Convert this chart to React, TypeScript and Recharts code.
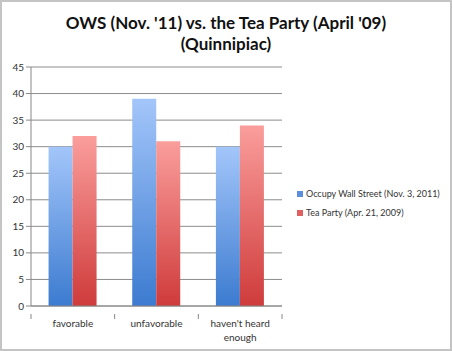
import React from 'react';
import { BarChart, Bar, XAxis, YAxis, CartesianGrid, Text } from 'recharts';

const categories = ['favorable', 'unfavorable', "haven't heard enough"];
const owsValues = [30, 39, 30];
const teaPartyValues = [32, 31, 34];
const yTicks = [0, 5, 10, 15, 20, 25, 30, 35, 40, 45];

const OWS_NAME = 'Occupy Wall Street (Nov. 3, 2011)';
const TEA_NAME = 'Tea Party (Apr. 21, 2009)';

const data = categories.map((name, i) => ({
  name,
  ows: owsValues[i],
  tea: teaPartyValues[i],
}));

const FONT = 'Lato, "Open Sans", sans-serif';
const BAND = (282 - 31) / 3;

const CategoryTick = (props: any) => {
  const { x, y, payload, index } = props;
  const left = x - BAND / 2;
  return (
    <g>
      <line x1={left} y1={y} x2={left} y2={y + 5} stroke="#888" />
      {index === categories.length - 1 && (
        <line x1={left + BAND} y1={y} x2={left + BAND} y2={y + 5} stroke="#888" />
      )}
      <Text x={x} y={y + 6} width={95} textAnchor="middle" verticalAnchor="start" fontSize={10} fill="#333" fontFamily={FONT} lineHeight={14}>
        {payload.value}
      </Text>
    </g>
  );
};

const LegendBox = () => (
  <div style={{ position: 'absolute', left: 297, top: 184, fontFamily: FONT, fontSize: 9, color: '#333', lineHeight: '19px', whiteSpace: 'nowrap' }}>
    <div style={{ display: 'flex', alignItems: 'center' }}>
      <span style={{ width: 6, height: 6, background: '#5b8fdc', marginRight: 3 }} />
      {OWS_NAME}
    </div>
    <div style={{ display: 'flex', alignItems: 'center' }}>
      <span style={{ width: 6, height: 6, background: '#e06060', marginRight: 3 }} />
      {TEA_NAME}
    </div>
  </div>
);

export default function App() {
  return (
    <div style={{ position: 'absolute', left: 0, top: 0, width: 452, height: 351, background: '#fff' }}>
      <div style={{ position: 'absolute', inset: 0, border: '2px solid #c4c4c4', boxSizing: 'border-box', pointerEvents: 'none', zIndex: 2 }} />
      <div style={{ position: 'absolute', top: 12, left: 0, width: 452, textAlign: 'center', fontFamily: FONT, fontWeight: 700, fontSize: 17, lineHeight: '21px', color: '#111' }}>
        OWS (Nov. '11) vs. the Tea Party (April '09)
        <br />
        (Quinnipiac)
      </div>
      <BarChart width={452} height={351} data={data} margin={{ top: 67, right: 170, bottom: 0, left: 0 }} barCategoryGap="21%" barGap={0}>
        <defs>
          <linearGradient id="gBlue" x1="0" y1="0" x2="0" y2="1">
            <stop offset="0%" stopColor="#a3c6fa" />
            <stop offset="100%" stopColor="#3c7bd0" />
          </linearGradient>
          <linearGradient id="gRed" x1="0" y1="0" x2="0" y2="1">
            <stop offset="0%" stopColor="#fa9e9c" />
            <stop offset="100%" stopColor="#cf3b3b" />
          </linearGradient>
        </defs>
        <CartesianGrid vertical={false} stroke="#8c8c8c" />
        <XAxis dataKey="name" axisLine={{ stroke: '#888' }} tickLine={false} tick={<CategoryTick />} interval={0} height={45} />
        <YAxis
          domain={[0, 45]}
          ticks={yTicks}
          width={31}
          axisLine={{ stroke: '#888' }}
          tickLine={{ stroke: '#888' }}
          tickSize={5}
          tick={{ fontSize: 10, fill: '#333', fontFamily: FONT }}
          interval={0}
        />
        <Bar dataKey="ows" name={OWS_NAME} fill="url(#gBlue)" isAnimationActive={false} />
        <Bar dataKey="tea" name={TEA_NAME} fill="url(#gRed)" isAnimationActive={false} />
      </BarChart>
      <LegendBox />
    </div>
  );
}
